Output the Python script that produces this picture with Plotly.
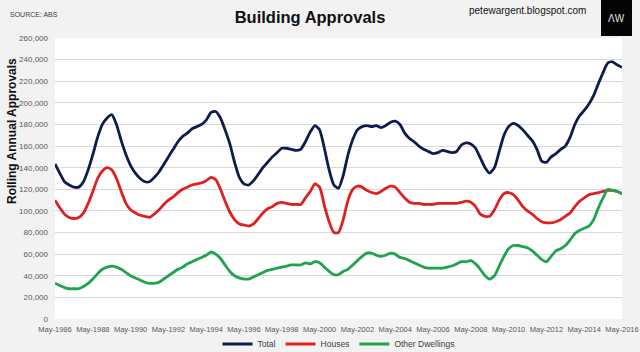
import pandas as pd
import plotly.graph_objects as go

# Quarterly observation dates, May-1986 .. May-2016
dates = pd.date_range("1986-05-01", periods=121, freq="3MS")

# Rolling annual approvals, thousands
total_k = [
    143.5, 135, 127, 124,
    122, 122, 127, 138,
    152, 168, 180, 186,
    189, 180, 165, 152,
    142, 135, 130, 127,
    127, 131, 136, 143,
    150, 157, 164, 169,
    172, 176, 178, 180,
    184, 191, 192, 186,
    175, 162, 145, 131,
    125, 124, 128, 134,
    140, 145, 150, 154,
    158, 158, 157, 156,
    157, 164, 173, 179,
    175, 158, 138, 124,
    121, 133, 152, 166,
    175, 178, 179, 178,
    179, 177, 179, 182,
    183, 180, 172, 167,
    164, 160, 157, 155,
    153, 154, 156, 155,
    154, 155, 161, 163,
    162, 158, 149, 140,
    135, 140, 155, 170,
    178, 181, 179, 175,
    170, 165, 157, 146,
    145, 150, 153, 157,
    160, 168, 180, 188,
    193, 199, 207, 218,
    228, 237, 238, 235,
    233,
]
houses_k = [
    110, 103, 97, 94,
    93, 94, 98, 107,
    118, 130, 137, 140,
    138, 130, 118, 107,
    101, 98, 96, 95,
    94, 97, 101, 106,
    110, 113, 117, 120,
    122, 124, 125, 126,
    128, 131, 129, 120,
    109, 99, 92, 88,
    87, 86, 88, 93,
    98, 102, 104, 107,
    108, 107, 106, 106,
    106, 112, 118, 125,
    122, 105, 90, 80,
    80, 92, 110, 120,
    123, 122, 119, 117,
    116, 118, 121, 123,
    122, 117, 112, 108,
    107, 107, 106, 106,
    106, 107, 107, 107,
    107, 107, 108, 109,
    108, 104, 97, 95,
    95, 101, 110, 116,
    117, 115, 110, 104,
    100, 97, 93, 90,
    89, 89, 90, 92,
    95, 98, 104, 109,
    112, 115, 116, 117,
    118, 119, 119, 118,
    116,
]
other_k = [
    33, 31, 29, 28,
    28, 28, 30, 33,
    37, 42, 46, 48,
    49, 48, 46, 43,
    40, 38, 36, 34,
    33, 33, 34, 37,
    40, 43, 46, 48,
    51, 53, 55, 57,
    59, 62, 60, 56,
    50, 44, 40, 38,
    37, 37, 39, 41,
    43, 45, 46, 47,
    48, 49, 50, 50,
    50, 52, 51, 53,
    52, 48, 44, 41,
    41, 44, 46, 50,
    54, 58, 61, 61,
    59, 58, 59, 61,
    60, 57, 56, 54,
    52, 50, 48, 47,
    47, 47, 47, 48,
    49, 51, 53, 53,
    54, 51, 46, 40,
    37, 40, 49, 58,
    65, 68, 68, 67,
    66, 63, 59, 55,
    53, 58, 63, 65,
    68, 73, 79, 82,
    84, 86, 92, 103,
    112, 120, 119, 118,
    116,
]

series_names = ["Total", "Houses", "Other Dwellings"]
series_colors = ["#0d1c4f", "#e0201e", "#1fa34c"]
series_vals = [total_k, houses_k, other_k]

SANS = "Liberation Sans, Arial, sans-serif"

fig = go.Figure()
for name, col, vals in zip(series_names, series_colors, series_vals):
    fig.add_trace(go.Scatter(
        x=dates, y=[v * 1000 for v in vals], name=name, mode="lines",
        line=dict(color=col, width=2.8, shape="spline", smoothing=0.6),
    ))

W, H = 640, 352
PW, PH = 567, 281  # plot area size in px
fig.update_layout(
    width=W, height=H,
    margin=dict(l=55, r=18, t=38, b=33, autoexpand=False),
    paper_bgcolor="#f2f2f2", plot_bgcolor="#ffffff",
    font=dict(family=SANS, color="#595959", size=8),
    title=dict(text="<b>Building Approvals</b>", x=310 / W, xanchor="center",
               y=1 - 17 / H, yanchor="middle",
               font=dict(family=SANS, size=16.5, color="#111111")),
    showlegend=True,
    legend=dict(orientation="h", x=0.5, xanchor="center",
                yref="container", y=(H - 344) / H, yanchor="middle",
                font=dict(family=SANS, size=8.5, color="#404040"),
                bgcolor="rgba(0,0,0,0)", itemwidth=30, tracegroupgap=0),
    xaxis=dict(type="date", range=["1986-05-01", "2016-05-01"],
               tick0="1986-05-01", dtick="M24", tickformat="%b-%Y",
               showgrid=False, zeroline=False, showline=False, ticks="",
               tickangle=0, automargin=False,
               tickfont=dict(family=SANS, size=7.5, color="#595959"),
               ticklabelstandoff=4),
    yaxis=dict(range=[0, 260000], dtick=20000, tickformat=",",
               showgrid=True, gridcolor="#d9d9d9", gridwidth=1,
               zeroline=False, showline=False, ticks="", automargin=False,
               tickfont=dict(family=SANS, size=8, color="#595959"),
               ticklabelstandoff=6),
)

fig.add_annotation(text="SOURCE: ABS", xref="paper", yref="paper",
                   x=(8 - 55) / PW, y=1 + (38 - 14) / PH,
                   xanchor="left", yanchor="middle", showarrow=False,
                   font=dict(family=SANS, size=7, color="#404040"))
fig.add_annotation(text="petewargent.blogspot.com", xref="paper", yref="paper",
                   x=(588 - 55) / PW, y=1 + (38 - 10) / PH,
                   xanchor="right", yanchor="middle", showarrow=False,
                   font=dict(family=SANS, size=10, color="#111111"))
fig.add_annotation(text="<b>Rolling Annual Approvals</b>", xref="paper", yref="paper",
                   x=(12 - 55) / PW, y=(319 - 131) / PH, textangle=-90,
                   xanchor="center", yanchor="middle", showarrow=False,
                   font=dict(family=SANS, size=12, color="#111111"))
# AW logo box
fig.add_shape(type="rect", xref="paper", yref="paper",
              x0=(601 - 55) / PW, x1=(632 - 55) / PW,
              y0=1 + (38 - 36) / PH, y1=1 + 38 / PH,
              fillcolor="#050505", line=dict(width=0), layer="above")
fig.add_annotation(text="ΛW", xref="paper", yref="paper",
                   x=(616.5 - 55) / PW, y=1 + (38 - 19) / PH,
                   xanchor="center", yanchor="middle", showarrow=False,
                   font=dict(family=SANS, size=10, color="#e0e0e0"))

fig.write_html("out.html")
